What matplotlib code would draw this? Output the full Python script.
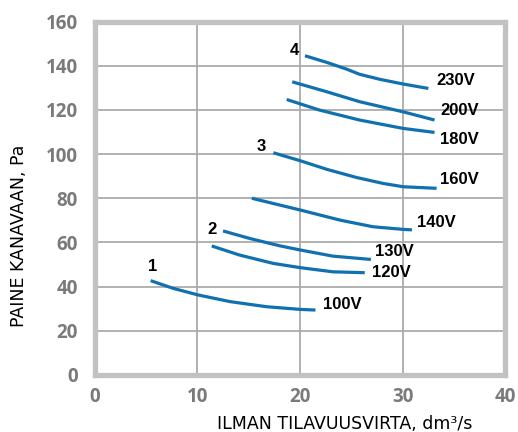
import matplotlib
matplotlib.use("Agg")
import matplotlib.pyplot as plt

# ---- data ----
x100 = [5.45, 7.65, 10.1, 13.2, 16.75, 20.0, 21.5]
y100 = [42.7, 39.2, 36.2, 33.2, 30.9, 29.7, 29.4]
x120 = [11.4, 14.1, 17.4, 20.0, 23.2, 26.3]
y120 = [58.4, 54.3, 50.5, 48.6, 46.7, 46.3]
x130 = [12.5, 15.1, 18.0, 20.0, 23.2, 26.9]
y130 = [65.2, 61.8, 58.5, 56.6, 53.8, 52.3]
x140 = [15.3, 20.0, 23.9, 27.1, 30.05, 30.9]
y140 = [80.0, 74.7, 70.1, 67.1, 65.9, 65.7]
x160 = [17.4, 20.0, 22.6, 25.5, 28.1, 30.05, 33.3]
y160 = [100.6, 97.0, 93.1, 89.4, 86.7, 85.2, 84.5]
x180 = [18.7, 21.9, 25.8, 30.05, 33.1]
y180 = [124.7, 119.9, 115.4, 111.6, 109.8]
x200 = [19.24, 22.6, 25.8, 30.05, 33.1]
y200 = [132.7, 128.2, 123.7, 119.1, 115.4]
x230 = [20.48, 22.6, 24.5, 25.8, 27.8, 30.05, 32.5]
y230 = [144.5, 141.5, 138.5, 136.1, 133.8, 131.7, 129.7]

voltage_labels = ["100V", "120V", "130V", "140V", "160V", "180V", "200V", "230V"]
voltage_label_x = [24.1, 28.9, 29.2, 33.3, 35.5, 35.5, 35.5, 35.2]
voltage_label_y = [32.1, 46.2, 55.7, 68.8, 88.5, 106.6, 119.6, 133.2]

speed_labels = ["1", "2", "3", "4"]
speed_label_x = [5.6, 11.4, 16.2, 19.4]
speed_label_y = [49.0, 65.9, 103.6, 147.0]

x_ticks = [0, 10, 20, 30, 40]
y_ticks = [0, 20, 40, 60, 80, 100, 120, 140, 160]

curves = [(x100, y100), (x120, y120), (x130, y130), (x140, y140),
          (x160, y160), (x180, y180), (x200, y200), (x230, y230)]

# ---- figure ----
fig = plt.figure(figsize=(5.18, 4.32), dpi=100)
ax = fig.add_axes([94.7 / 518, 1 - 375 / 432, (505.4 - 94.7) / 518, (375 - 21.5) / 432])

line_color = "#1070b0"
for xs, ys in curves:
    ax.plot(xs, ys, color=line_color, linewidth=2.3, solid_capstyle="butt",
            solid_joinstyle="round", zorder=3)

lab_font = ["Liberation Sans", "DejaVu Sans"]
for t, xv, yv in zip(voltage_labels, voltage_label_x, voltage_label_y):
    ax.text(xv, yv, t, ha="center", va="center", fontsize=12, fontweight="bold",
            family=lab_font, color="black", zorder=4)
for t, xv, yv in zip(speed_labels, speed_label_x, speed_label_y):
    ax.text(xv, yv, t, ha="center", va="center", fontsize=12, fontweight="bold",
            family=lab_font, color="black", zorder=4)

ax.set_xlim(0, 40)
ax.set_ylim(0, 160)
ax.set_xticks(x_ticks)
ax.set_yticks(y_ticks)
ax.grid(True, color="#ababab", linewidth=1.3, zorder=0)
ax.set_axisbelow(True)
for s in ax.spines.values():
    s.set_color("#c2c2c2")
    s.set_linewidth(3.8)
ax.tick_params(length=0, labelsize=13.5, labelcolor="#7a7a7a", pad=12)
for lbl in ax.get_xticklabels() + ax.get_yticklabels():
    lbl.set_fontweight("bold")
    lbl.set_family(["Open Sans", "DejaVu Sans"])
ax.tick_params(axis="x", pad=9)

fig.text(345 / 518, 1 - 424 / 432, "ILMAN TILAVUUSVIRTA, dm³/s", ha="center", va="center",
         fontsize=12.5, color="black", family=["DejaVu Sans"])
fig.text(19 / 518, 1 - 236 / 432, "PAINE KANAVAAN, Pa", ha="center", va="center",
         rotation=90, fontsize=12.5, color="black", family=["DejaVu Sans"])

fig.savefig("out.png", dpi=100)
